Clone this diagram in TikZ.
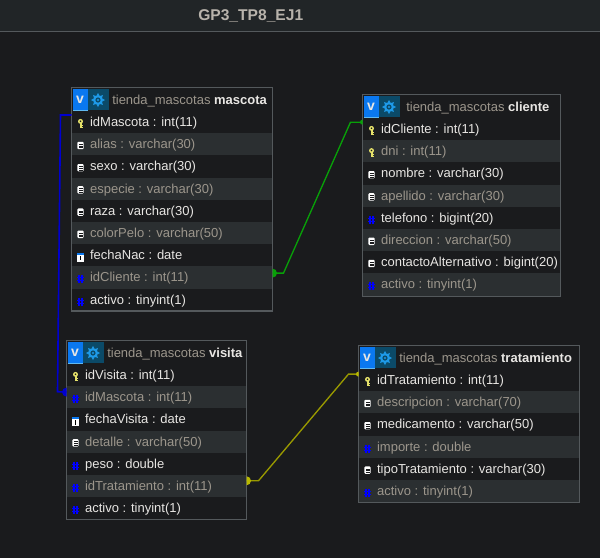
\documentclass[tikz,border=0pt]{standalone}
\usepackage{fontspec}
\setmainfont{Liberation Sans}
\usetikzlibrary{calc}
\definecolor{bg}{HTML}{1A1B1D}
\definecolor{strip}{HTML}{212527}
\definecolor{rule}{HTML}{54595C}
\definecolor{band}{HTML}{2B2F31}
\definecolor{txt}{HTML}{E8E6E3}
\definecolor{dim}{HTML}{9C968C}
\definecolor{heading}{HTML}{B8B3AB}
\definecolor{vblue}{HTML}{0A78F0}
\definecolor{teal}{HTML}{0B4A68}
\definecolor{gearc}{HTML}{1E9BEA}
\definecolor{keyc}{HTML}{E6E26A}
\definecolor{fkgreen}{HTML}{08A008}
\definecolor{fkyellow}{HTML}{9A9A00}
\definecolor{fkblue}{HTML}{0000D0}
\tikzset{
  x=0.75pt,y=-0.75pt,
  rowbox/.style={minimum height=16.65pt,inner sep=0pt,outer sep=0pt,anchor=north west,draw=none},
  fieldtext/.style={inner sep=0pt,anchor=base west,font=\fontsize{9.75pt}{12pt}\selectfont},
  headtext/.style={inner sep=0pt,anchor=base west,font=\fontsize{9.75pt}{12pt}\selectfont,text=dim},
  frame/.style={draw=rule,line width=0.9pt},
  link/.style={line width=1pt},
  pics/keyicon/.style={code={
    \fill[keyc] (0,-2.6) circle (2.5);
    \fill[keyc] (-1,-1) rectangle (1,4.2);
    \fill[keyc] (1,1.2) rectangle (2.2,2.2);
    \fill[keyc] (1,3) rectangle (2.2,4);
    \fill[bg] (0,-2.8) circle (0.9);
  }},
  pics/docicon/.style={code={
    \fill[white,rounded corners=0.8pt] (-3.2,-3.6) rectangle (3.2,3.8);
    \fill[bg] (-2,-1.5) rectangle (2,-1);
    \fill[bg] (-2,0.3) rectangle (2,0.8);
    \fill[bg] (-2,2) rectangle (2,2.4);
  }},
  pics/dateicon/.style={code={
    \fill[white] (-3.2,-4.5) rectangle (3.2,4.5);
    \fill[vblue] (-3.2,-4.5) rectangle (3.2,-2.2);
    \fill[black] (-0.8,-1.4) rectangle (0.8,3.2);
  }},
  pics/hashicon/.style={code={
    \draw[blue,line width=0.8pt]
      (-1.5,-4) -- (-1.5,4) (1.5,-4) -- (1.5,4)
      (-3.3,-1.5) -- (3.3,-1.5) (-3.3,1.5) -- (3.3,1.5);
  }},
  pics/gearicon/.style={code={
    \fill[gearc] (0,0) circle (5);
    \foreach \a in {0,45,...,315} \fill[gearc] (\a:7) -- (\a+18:4.5) -- (\a-18:4.5) -- cycle;
    \fill[teal] (0,0) circle (2.6);
    \fill[gearc] (0,0) circle (1.2);
  }}
}
\def\bandname{band}
% table name, left, top, right, schema-offset, table title
\newcommand{\tablehead}[6]{%
  \fill[bg] (#2,#3) rectangle (#4,#3+23);
  \fill[vblue] (#2+1,#3+1) rectangle (#2+16,#3+23);
  \fill[gearc!70!white] (#2+1,#3+22) rectangle (#2+16,#3+23);
  \fill[teal] (#2+16,#3+1) rectangle (#2+37,#3+22);
  \node[inner sep=0pt,text=txt,font=\bfseries\fontsize{10.5pt}{12pt}\selectfont] (#1-v) at (#2+8.5,#3+12) {v};
  \pic at (#2+26.5,#3+12.5) {gearicon};
  \node[headtext] (#1-title) at (#5,#3+17) {tienda\_mascotas \textcolor{txt}{\textbf{#6}}};
}
% table, field key, left, row-top, right, icon, band?, text
\newcommand{\fieldrow}[8]{%
  \node[rowbox,fill=#7,minimum width={(#5-#3)*0.75pt}] (#1-#2) at (#3,#4) {};
  \def\rowkind{#7}%
  \ifx\rowkind\bandname\def\rowtext{dim}\else\def\rowtext{txt}\fi
  \def\iconname{#6}\def\iconflat{docicon}%
  \ifx\iconname\iconflat\def\icony{12.2}\else\def\icony{13}\fi
  \pic at (#3+9,#4+\icony) {#6};
  \node[fieldtext,text=\rowtext] at (#3+18.3,#4+15.5) {#8};
}
\begin{document}
\begin{tikzpicture}
\useasboundingbox (0,0) rectangle (600,558);
\fill[bg] (0,0) rectangle (600,558);
\fill[strip] (0,0) rectangle (600,31);
\draw[rule,line width=0.75pt] (0,31) -- (600,31);
\node[inner sep=0pt,anchor=base west,text=heading,font=\bfseries\fontsize{11.7pt}{13pt}\selectfont] (diagramtitle) at (198,20) {GP3\_TP8\_EJ1};

% mascota
\tablehead{mascota}{71.5}{87.5}{272.5}{112}{mascota}
\fieldrow{mascota}{idMascota}{71.5}{111}{272.5}{keyicon}{bg}{idMascota : int(11)}
\fieldrow{mascota}{alias}{71.5}{133.2}{272.5}{docicon}{band}{alias : varchar(30)}
\fieldrow{mascota}{sexo}{71.5}{155.4}{272.5}{docicon}{bg}{sexo : varchar(30)}
\fieldrow{mascota}{especie}{71.5}{177.6}{272.5}{docicon}{band}{especie : varchar(30)}
\fieldrow{mascota}{raza}{71.5}{199.8}{272.5}{docicon}{bg}{raza : varchar(30)}
\fieldrow{mascota}{colorPelo}{71.5}{222}{272.5}{docicon}{band}{colorPelo : varchar(50)}
\fieldrow{mascota}{fechaNac}{71.5}{244.2}{272.5}{dateicon}{bg}{fechaNac : date}
\fieldrow{mascota}{idCliente}{71.5}{266.4}{272.5}{hashicon}{band}{idCliente : int(11)}
\fieldrow{mascota}{activo}{71.5}{288.6}{272.5}{hashicon}{bg}{activo : tinyint(1)}
\draw[frame] (71.5,87.5) rectangle (272.5,311);

% cliente
\tablehead{cliente}{362.5}{94.5}{560.5}{406}{cliente}
\fieldrow{cliente}{idCliente}{362.5}{118}{560.5}{keyicon}{bg}{idCliente : int(11)}
\fieldrow{cliente}{dni}{362.5}{140.2}{560.5}{keyicon}{band}{dni : int(11)}
\fieldrow{cliente}{nombre}{362.5}{162.4}{560.5}{docicon}{bg}{nombre : varchar(30)}
\fieldrow{cliente}{apellido}{362.5}{184.6}{560.5}{docicon}{band}{apellido : varchar(30)}
\fieldrow{cliente}{telefono}{362.5}{206.8}{560.5}{hashicon}{bg}{telefono : bigint(20)}
\fieldrow{cliente}{direccion}{362.5}{229}{560.5}{docicon}{band}{direccion : varchar(50)}
\fieldrow{cliente}{contacto}{362.5}{251.2}{560.5}{docicon}{bg}{contactoAlternativo : bigint(20)}
\fieldrow{cliente}{activo}{362.5}{273.4}{560.5}{hashicon}{band}{activo : tinyint(1)}
\draw[frame] (362.5,94.5) rectangle (560.5,296.5);

% visita
\tablehead{visita}{66.5}{340.5}{246.5}{107}{visita}
\fieldrow{visita}{idVisita}{66.5}{364}{246.5}{keyicon}{bg}{idVisita : int(11)}
\fieldrow{visita}{idMascota}{66.5}{386.2}{246.5}{hashicon}{band}{idMascota : int(11)}
\fieldrow{visita}{fechaVisita}{66.5}{408.4}{246.5}{dateicon}{bg}{fechaVisita : date}
\fieldrow{visita}{detalle}{66.5}{430.6}{246.5}{docicon}{band}{detalle : varchar(50)}
\fieldrow{visita}{peso}{66.5}{452.8}{246.5}{hashicon}{bg}{peso : double}
\fieldrow{visita}{idTratamiento}{66.5}{475}{246.5}{hashicon}{band}{idTratamiento : int(11)}
\fieldrow{visita}{activo}{66.5}{497.2}{246.5}{hashicon}{bg}{activo : tinyint(1)}
\draw[frame] (66.5,340.5) rectangle (246.5,519.5);

% tratamiento
\tablehead{tratamiento}{358.5}{345.5}{579.5}{399}{tratamiento}
\fieldrow{tratamiento}{idTratamiento}{358.5}{369}{579.5}{keyicon}{bg}{idTratamiento : int(11)}
\fieldrow{tratamiento}{descripcion}{358.5}{391.2}{579.5}{docicon}{band}{descripcion : varchar(70)}
\fieldrow{tratamiento}{medicamento}{358.5}{413.4}{579.5}{docicon}{bg}{medicamento : varchar(50)}
\fieldrow{tratamiento}{importe}{358.5}{435.6}{579.5}{hashicon}{band}{importe : double}
\fieldrow{tratamiento}{tipo}{358.5}{457.8}{579.5}{docicon}{bg}{tipoTratamiento : varchar(30)}
\fieldrow{tratamiento}{activo}{358.5}{480}{579.5}{hashicon}{band}{activo : tinyint(1)}
\draw[frame] (358.5,345.5) rectangle (579.5,502.5);

% connectors
\coordinate (gs) at ([yshift=3.3pt]mascota-idCliente.east);
\coordinate (g1) at ([xshift=8.25pt]gs);
\coordinate (ge) at ([yshift=5.2pt]cliente-idCliente.west);
\coordinate (g2) at ([xshift=-9pt]ge);
\draw[link,fkgreen] (gs) -- (g1) -- (g2) -- (ge);
\fill[fkgreen] (gs) ++(0,4.5) arc (90:-90:4.5) -- cycle;
\fill[fkgreen] (ge) ++(0,2.5) arc (90:270:2.5) -- cycle;

\coordinate (ys) at ([yshift=4pt]visita-idTratamiento.east);
\coordinate (y1) at ([xshift=9pt]ys);
\coordinate (ye) at ([yshift=4.5pt]tratamiento-idTratamiento.west);
\coordinate (y2) at ([xshift=-7.5pt]ye);
\draw[link,fkyellow] (ys) -- (y1) -- (y2) -- (ye);
\fill[fkyellow!70!yellow] (ys) ++(0,4.5) arc (90:-90:4.5) -- cycle;
\fill[fkyellow!70!yellow] (ye) ++(0,2.5) arc (90:270:2.5) -- cycle;

\coordinate (bs) at ([yshift=5.3pt]mascota-idMascota.west);
\coordinate (b1) at (60.5,115);
\coordinate (be) at ([yshift=3.9pt]visita-idMascota.west);
\coordinate (b2) at (57.5,391.7);
\draw[link,fkblue,line width=1.2pt] (bs) -- (b1) -- (b2) -- (be);
\fill[fkblue] (be) ++(0,4.5) arc (90:270:4.5) -- cycle;
\end{tikzpicture}
\end{document}
